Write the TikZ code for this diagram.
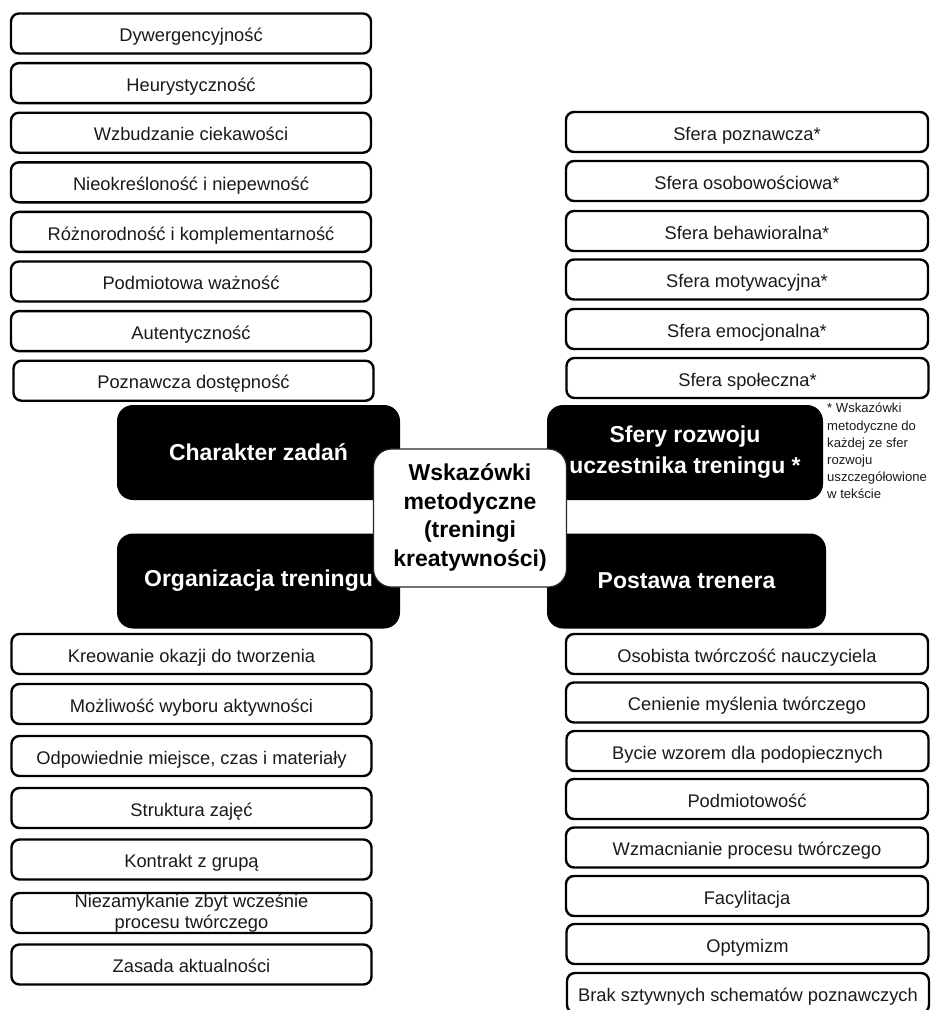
\documentclass[tikz,border=0pt]{standalone}
\usepackage{fontspec}
\setmainfont{Liberation Sans}
\definecolor{ink}{HTML}{1A1A1A}
\begin{document}
\begin{tikzpicture}[x=1pt,y=-1pt,
  itembox/.style={draw=black, line width=2.4pt, rounded corners=8pt, fill=white,
    text=ink, inner sep=0pt, align=center, minimum height=40pt,
    text height=16.5pt, text depth=0pt,
    font=\fontsize{18.3}{20.5}\selectfont},
  twolines/.style={text height=, text depth=},
  leftitem/.style={itembox, minimum width=360pt},
  rightitem/.style={itembox, minimum width=362pt},
  areabox/.style={fill=black, rounded corners=16pt, text=white, inner sep=0pt,
    align=center, minimum height=95pt, font=\fontsize{23}{31}\selectfont\bfseries},
  hubbox/.style={draw=black!85, line width=1.2pt, fill=white, rounded corners=18pt,
    text=black, inner sep=0pt, minimum width=193pt, minimum height=138pt,
    font=\fontsize{23}{28.5}\selectfont\bfseries},
  notetext/.style={anchor=north west, inner sep=0pt, align=left, text=ink,
    font=\fontsize{13.1}{17.2}\selectfont}
]
\useasboundingbox (0,0) rectangle (930,1010);

% task character
\node[leftitem] (t1) at (191,33.5) {Dywergencyjność};
\node[leftitem] (t2) at (191,83.1) {Heurystyczność};
\node[leftitem] (t3) at (191,132.7) {Wzbudzanie ciekawości};
\node[leftitem] (t4) at (191,182.3) {Nieokreśloność i niepewność};
\node[leftitem] (t5) at (191,231.9) {Różnorodność i komplementarność};
\node[leftitem] (t6) at (191,281.5) {Podmiotowa ważność};
\node[leftitem] (t7) at (191,331.1) {Autentyczność};
\node[leftitem] (t8) at (193.5,380.7) {Poznawcza dostępność};

% development spheres
\node[rightitem] (s1) at (747,132) {Sfera poznawcza*};
\node[rightitem] (s2) at (747,181) {Sfera osobowościowa*};
\node[rightitem] (s3) at (747,231) {Sfera behawioralna*};
\node[rightitem] (s4) at (747,279.5) {Sfera motywacyjna*};
\node[rightitem] (s5) at (747,329) {Sfera emocjonalna*};
\node[rightitem] (s6) at (747.5,378) {Sfera społeczna*};

% organisation of the training
\node[leftitem] (o1) at (191.5,654) {Kreowanie okazji do tworzenia};
\node[leftitem] (o2) at (191.5,704) {Możliwość wyboru aktywności};
\node[leftitem] (o3) at (191.5,756) {Odpowiednie miejsce, czas i materiały};
\node[leftitem] (o4) at (191.5,808) {Struktura zajęć};
\node[leftitem] (o5) at (191.5,859.5) {Kontrakt z grupą};
\node[leftitem, twolines, font=\fontsize{18.3}{21}\selectfont] (o6) at (191.5,913)
  {Niezamykanie zbyt wcześnie\\procesu twórczego};
\node[leftitem] (o7) at (191.5,964.5) {Zasada aktualności};

% trainer's attitude
\node[rightitem] (p1) at (747,654) {Osobista twórczość nauczyciela};
\node[rightitem] (p2) at (747,702.5) {Cenienie myślenia twórczego};
\node[rightitem] (p3) at (747.5,751) {Bycie wzorem dla podopiecznych};
\node[rightitem] (p4) at (747,799) {Podmiotowość};
\node[rightitem] (p5) at (747,847.5) {Wzmacnianie procesu twórczego};
\node[rightitem] (p6) at (747,896) {Facylitacja};
\node[rightitem] (p7) at (747.5,944) {Optymizm};
\node[rightitem] (p8) at (748,993) {Brak sztywnych schematów poznawczych};

% the four areas
\node[areabox, minimum width=283pt] (charakter) at (258.5,452.5) {Charakter zadań};
\node[areabox, minimum width=283pt] (organizacja) at (258.5,581) {Organizacja treningu};
\node[areabox, minimum width=276pt] (sfery) at (685,452.5) {Sfery rozwoju\\uczestnika treningu *};
\node[areabox, minimum width=279pt] (postawa) at (686.5,581) {Postawa trenera};

% central hub
\node[hubbox] (hub) at (470,518)
  {\begin{tabular}{@{}c@{}}Wskazówki\\metodyczne\\(treningi\\kreatywności)\end{tabular}};

% footnote to the spheres
\node[notetext] (note) at (827,403)
  {* Wskazówki\\metodyczne do\\każdej ze sfer\\rozwoju\\uszczegółowione\\w tekście};
\end{tikzpicture}
\end{document}
